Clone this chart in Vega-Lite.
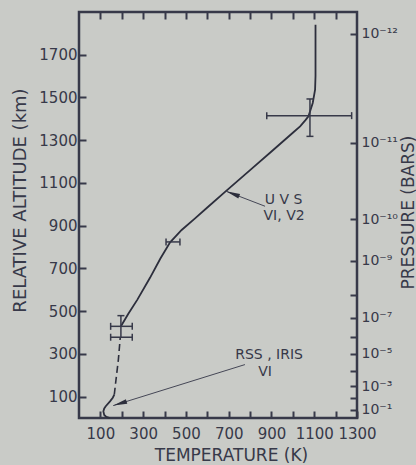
{
  "$schema": "https://vega.github.io/schema/vega-lite/v6.json",
  "width": 278,
  "height": 406,
  "autosize": {"type": "none"},
  "padding": {"left": 79, "top": 12, "right": 59, "bottom": 47},
  "background": "#c9cbc7",
  "config": {
    "view": {"stroke": "#373949", "strokeWidth": 2.5},
    "axis": {
      "domain": false, "grid": false, "ticks": true, "tickSize": -7, "tickWidth": 2,
      "tickColor": "#373949", "labelColor": "#373949", "titleColor": "#373949",
      "labelFont": "DejaVu Sans", "labelFontSize": 15, "titleFont": "DejaVu Sans",
      "titleFontSize": 17, "titleFontWeight": "normal", "format": "d",
      "labelFlush": false, "labelOverlap": false, "labelBound": false
    }
  },
  "datasets": {
    "profile": [
      {"seg": "a", "i": 0, "T": 145, "A": 0},
      {"seg": "a", "i": 1, "T": 128, "A": 5},
      {"seg": "a", "i": 2, "T": 118, "A": 14},
      {"seg": "a", "i": 3, "T": 114, "A": 31},
      {"seg": "a", "i": 4, "T": 118, "A": 45},
      {"seg": "a", "i": 5, "T": 125, "A": 55},
      {"seg": "a", "i": 6, "T": 145, "A": 78},
      {"seg": "a", "i": 7, "T": 158, "A": 95},
      {"seg": "a", "i": 8, "T": 165, "A": 109},
      {"seg": "b", "i": 0, "T": 165, "A": 109},
      {"seg": "b", "i": 1, "T": 173, "A": 179},
      {"seg": "b", "i": 2, "T": 184, "A": 272},
      {"seg": "b", "i": 3, "T": 193, "A": 378},
      {"seg": "c", "i": 0, "T": 196, "A": 429},
      {"seg": "c", "i": 1, "T": 230, "A": 487},
      {"seg": "c", "i": 2, "T": 273, "A": 554},
      {"seg": "c", "i": 3, "T": 332, "A": 656},
      {"seg": "c", "i": 4, "T": 380, "A": 745},
      {"seg": "c", "i": 5, "T": 426, "A": 822},
      {"seg": "c", "i": 6, "T": 480, "A": 880},
      {"seg": "c", "i": 7, "T": 540, "A": 932},
      {"seg": "c", "i": 8, "T": 600, "A": 985},
      {"seg": "c", "i": 9, "T": 683, "A": 1058},
      {"seg": "c", "i": 10, "T": 800, "A": 1160},
      {"seg": "c", "i": 11, "T": 900, "A": 1247},
      {"seg": "c", "i": 12, "T": 1000, "A": 1335},
      {"seg": "c", "i": 13, "T": 1034, "A": 1365},
      {"seg": "c", "i": 14, "T": 1060, "A": 1395},
      {"seg": "c", "i": 15, "T": 1073, "A": 1412},
      {"seg": "c", "i": 16, "T": 1093, "A": 1474},
      {"seg": "c", "i": 17, "T": 1104, "A": 1537},
      {"seg": "c", "i": 18, "T": 1106, "A": 1600},
      {"seg": "c", "i": 19, "T": 1106, "A": 1840}
    ],
    "bars": [
      {"T": 878, "T2": 1275, "A": 1415, "A2": 1415},
      {"T": 1080, "T2": 1080, "A": 1318, "A2": 1493},
      {"T": 407, "T2": 472, "A": 824, "A2": 824},
      {"T": 148, "T2": 249, "A": 429, "A2": 429},
      {"T": 148, "T2": 249, "A": 378, "A2": 378},
      {"T": 196, "T2": 196, "A": 378, "A2": 479}
    ],
    "caps": [
      {"dir": "v", "T": 878, "A": 1415},
      {"dir": "v", "T": 1275, "A": 1415},
      {"dir": "v", "T": 407, "A": 824},
      {"dir": "v", "T": 472, "A": 824},
      {"dir": "v", "T": 148, "A": 429},
      {"dir": "v", "T": 249, "A": 429},
      {"dir": "v", "T": 148, "A": 378},
      {"dir": "v", "T": 249, "A": 378},
      {"dir": "h", "T": 1080, "A": 1318},
      {"dir": "h", "T": 1080, "A": 1493},
      {"dir": "h", "T": 196, "A": 479}
    ],
    "arrows": [
      {"id": "rss", "T": 776, "A": 250, "T2": 160, "A2": 58},
      {"id": "uvs", "T": 870, "A": 991, "T2": 688, "A2": 1061}
    ],
    "labels": [
      {"text": "RSS , IRIS", "T": 889, "A": 297},
      {"text": "VI", "T": 870, "A": 215},
      {"text": "U V S", "T": 957, "A": 1022},
      {"text": "VI, V2", "T": 959, "A": 947}
    ]
  },
  "layer": [
    {
      "data": {"name": "profile"},
      "transform": [{"filter": "datum.seg == 'a'"}],
      "mark": {"type": "line", "color": "#2c2e3c", "strokeWidth": 1.8},
      "encoding": {
        "x": {"field": "T", "type": "quantitative", "scale": {"domain": [0, 1300], "nice": false, "zero": false},
          "axis": {"orient": "bottom", "values": [100, 200, 300, 400, 500, 600, 700, 800, 900, 1000, 1100, 1200, 1300],
            "labelExpr": "datum.value % 200 == 100 ? datum.label : ''", "labelPadding": 15,
            "title": "TEMPERATURE (K)", "titleX": 152, "titleY": 42, "titleBaseline": "alphabetic", "titleAlign": "center"}},
        "y": {"field": "A", "type": "quantitative", "scale": {"domain": [0, 1900], "nice": false, "zero": false},
          "axis": {"orient": "left", "values": [100, 300, 500, 700, 900, 1100, 1300, 1500, 1700], "labelPadding": 9,
            "title": "RELATIVE ALTITUDE (km)", "titleFontSize": 18, "titleX": -54, "titleY": 188, "titleAngle": 270, "titleBaseline": "alphabetic", "titleAlign": "center"}},
        "order": {"field": "i"}
      }
    },
    {
      "data": {"name": "profile"},
      "transform": [{"filter": "datum.seg == 'b'"}],
      "mark": {"type": "line", "color": "#2c2e3c", "strokeWidth": 1.6, "strokeDash": [7, 4]},
      "encoding": {
        "x": {"field": "T", "type": "quantitative", "axis": null},
        "y": {"field": "A", "type": "quantitative", "axis": null},
        "order": {"field": "i"}
      }
    },
    {
      "data": {"name": "profile"},
      "transform": [{"filter": "datum.seg == 'c'"}],
      "mark": {"type": "line", "color": "#2c2e3c", "strokeWidth": 1.8},
      "encoding": {
        "x": {"field": "T", "type": "quantitative",
          "axis": {"orient": "top", "values": [100, 200, 300, 400, 500, 600, 700, 800, 900, 1000, 1100, 1200], "labels": false, "title": null}},
        "y": {"field": "A", "type": "quantitative",
          "axis": {"orient": "right", "values": [1799, 1287, 930, 737, 574, 470, 378, 301, 219, 148, 94, 39],
            "labelExpr": "['10⁻¹²','10⁻¹¹','10⁻¹⁰','10⁻⁹','','10⁻⁷','','10⁻⁵','','10⁻³','','10⁻¹'][indexof([1799,1287,930,737,574,470,378,301,219,148,94,39], datum.value)]",
            "labelPadding": 11, "labelAlign": "left", "labelFontSize": 14,
            "title": "PRESSURE (BARS)", "titleX": 56, "titleY": 200, "titleAngle": 270, "titleBaseline": "alphabetic", "titleAlign": "center"}},
        "order": {"field": "i"}
      }
    },
    {
      "data": {"name": "bars"},
      "mark": {"type": "rule", "color": "#373949", "strokeWidth": 1.5},
      "encoding": {
        "x": {"field": "T", "type": "quantitative", "axis": null},
        "x2": {"field": "T2"},
        "y": {"field": "A", "type": "quantitative", "axis": null},
        "y2": {"field": "A2"}
      }
    },
    {
      "data": {"name": "caps"},
      "transform": [{"filter": "datum.dir == 'v'"}],
      "mark": {"type": "tick", "orient": "vertical", "color": "#373949", "size": 7, "thickness": 1.5, "opacity": 1},
      "encoding": {
        "x": {"field": "T", "type": "quantitative", "axis": null},
        "y": {"field": "A", "type": "quantitative", "axis": null}
      }
    },
    {
      "data": {"name": "caps"},
      "transform": [{"filter": "datum.dir == 'h'"}],
      "mark": {"type": "tick", "orient": "horizontal", "color": "#373949", "size": 7, "thickness": 1.5, "opacity": 1},
      "encoding": {
        "x": {"field": "T", "type": "quantitative", "axis": null},
        "y": {"field": "A", "type": "quantitative", "axis": null}
      }
    },
    {
      "data": {"name": "arrows"},
      "mark": {"type": "rule", "color": "#454756", "strokeWidth": 1},
      "encoding": {
        "x": {"field": "T", "type": "quantitative", "axis": null},
        "x2": {"field": "T2"},
        "y": {"field": "A", "type": "quantitative", "axis": null},
        "y2": {"field": "A2"}
      }
    },
    {
      "data": {"name": "arrows"},
      "transform": [{"filter": "datum.id == 'rss'"}],
      "mark": {"type": "point", "shape": "M0,0L0.35,2L-0.35,2Z", "filled": true, "size": 196, "angle": 253, "color": "#2c2e3c", "opacity": 1},
      "encoding": {
        "x": {"field": "T2", "type": "quantitative", "axis": null},
        "y": {"field": "A2", "type": "quantitative", "axis": null}
      }
    },
    {
      "data": {"name": "arrows"},
      "transform": [{"filter": "datum.id == 'uvs'"}],
      "mark": {"type": "point", "shape": "M0,0L0.35,2L-0.35,2Z", "filled": true, "size": 196, "angle": 291, "color": "#2c2e3c", "opacity": 1},
      "encoding": {
        "x": {"field": "T2", "type": "quantitative", "axis": null},
        "y": {"field": "A2", "type": "quantitative", "axis": null}
      }
    },
    {
      "data": {"name": "labels"},
      "mark": {"type": "text", "font": "DejaVu Sans", "fontSize": 14, "color": "#373949", "align": "center", "baseline": "middle"},
      "encoding": {
        "x": {"field": "T", "type": "quantitative", "axis": null},
        "y": {"field": "A", "type": "quantitative", "axis": null},
        "text": {"field": "text"}
      }
    }
  ],
  "resolve": {"axis": {"x": "independent", "y": "independent"}}
}
